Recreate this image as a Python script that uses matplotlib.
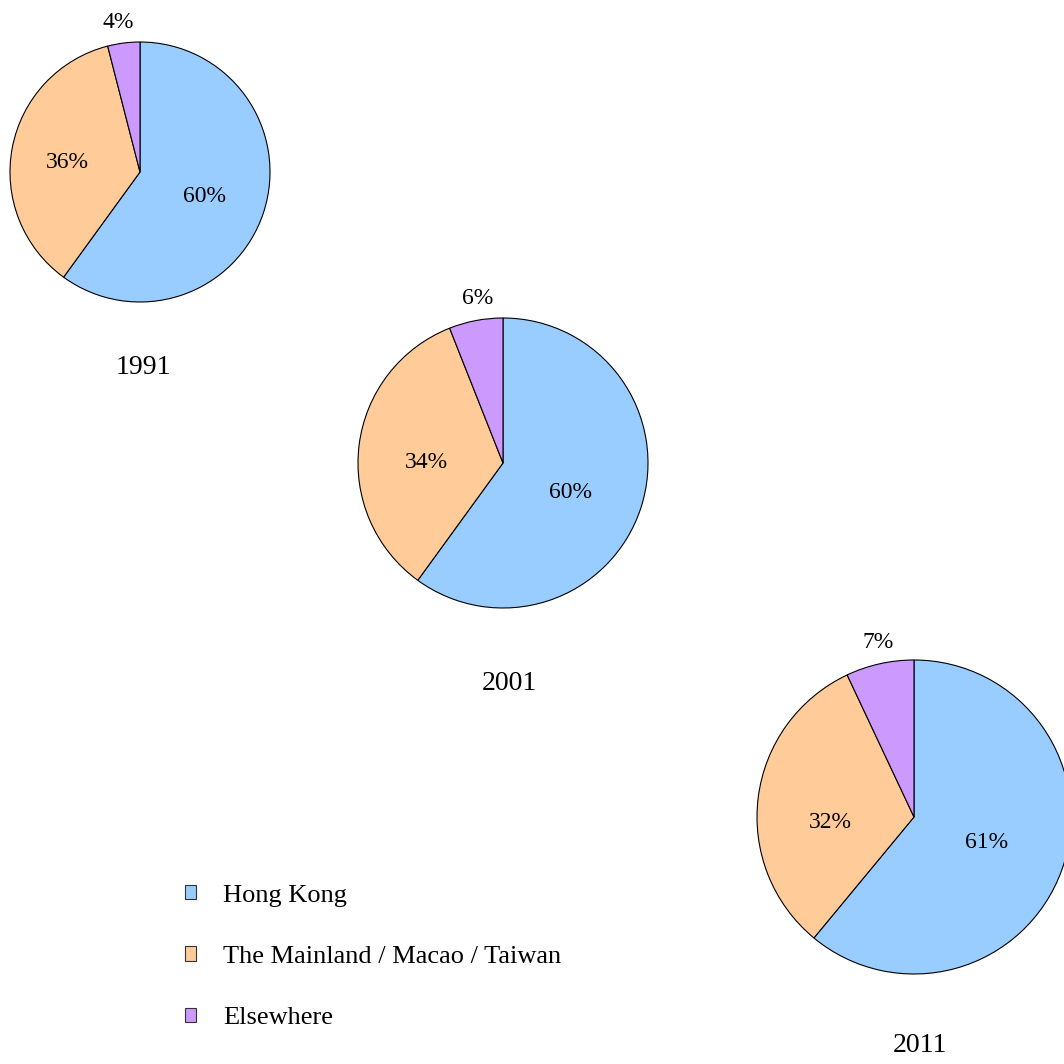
import matplotlib.pyplot as plt
from matplotlib.patches import Patch

plt.rcParams['font.family'] = ['Liberation Serif', 'DejaVu Serif']

years = ['1991', '2001', '2011']
categories = ['Hong Kong', 'The Mainland / Macao / Taiwan', 'Elsewhere']
hong_kong = [60, 60, 61]
mainland = [36, 34, 32]
elsewhere = [4, 6, 7]
colors = ['#99CCFF', '#FFCC99', '#CC99FF']

# pixel layout (y measured from top of image)
centers = [(140, 172), (503, 463), (914, 817)]
radii = [130, 145, 157]
year_pos = [(143, 368), (509, 684), (920, 1046)]
# label positions: Hong Kong, Mainland, Elsewhere
label_pos = [[(204, 197), (67, 163), (118, 22)],
             [(571, 492), (426, 463), (478, 299)],
             [(987, 842), (830, 823), (878, 642)]]

H = 1064
fig = plt.figure(figsize=(10.64, 10.64), dpi=100)
ax = fig.add_axes([0, 0, 1, 1])

for i in range(3):
    vals = [hong_kong[i], mainland[i], elsewhere[i]]
    cx, cy = centers[i]
    wedges, texts, autotexts = ax.pie(
        vals, colors=colors, startangle=90, counterclock=False,
        center=(cx, H - cy), radius=radii[i],
        autopct=lambda p: '%d%%' % round(p),
        wedgeprops=dict(edgecolor='black', linewidth=0.8),
        textprops=dict(fontsize=17, color='black'))
    for t, (px, py) in zip(autotexts, label_pos[i]):
        t.set_position((px, H - py))
    yx, yy = year_pos[i]
    ax.text(yx, H - yy, years[i], fontsize=20, ha='center', va='center')

handles = [Patch(facecolor=c, edgecolor='#333333', linewidth=0.8) for c in colors]
ax.legend(handles, categories, loc='upper left', bbox_to_anchor=(174 / H, 1 - 874 / H),
          frameon=False, fontsize=19, handlelength=0.45, handleheight=0.45,
          handletextpad=1.0, labelspacing=1.49, borderaxespad=0)

ax.set_xlim(0, H)
ax.set_ylim(0, H)
ax.set_aspect('equal')
ax.axis('off')
fig.savefig('out.png', dpi=100)
